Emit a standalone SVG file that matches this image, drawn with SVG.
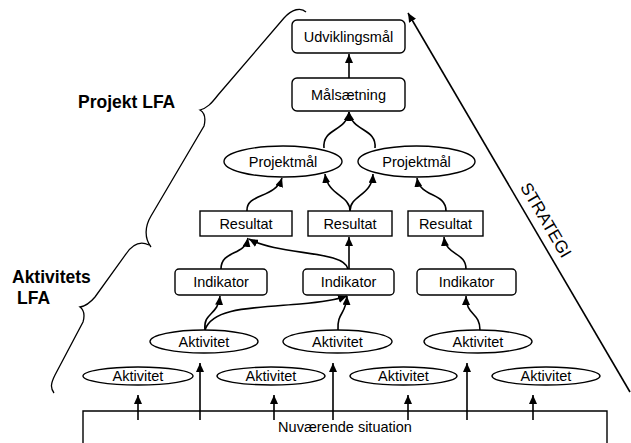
<svg xmlns="http://www.w3.org/2000/svg" width="631" height="443" viewBox="0 0 631 443">
<defs>
<marker id="ah" markerUnits="userSpaceOnUse" markerWidth="10" markerHeight="8" refX="9" refY="4" orient="auto">
<path d="M0,0 L9,4 L0,8 z" fill="#000"/>
</marker>
<style>
.box{fill:#fff;stroke:#000;stroke-width:1.4}
.t{font-family:"Liberation Sans",Arial,sans-serif;font-size:14.5px;fill:#000;text-anchor:middle}
.b{font-family:"Liberation Sans",Arial,sans-serif;font-size:17.5px;font-weight:bold;fill:#000}
.c{fill:none;stroke:#000;stroke-width:1.6}
.br{fill:none;stroke:#000;stroke-width:1.3}
</style>
</defs>
<rect width="631" height="443" fill="#fff"/>

<g id="braces">
<path class="br" d="M306,12 C301,7 292,9 284,18 L218,95 C211,104 207,108 200,110 C205,113 206,118 204,126 L151,216 C145,226 144,238 151,247"/>
<path class="br" d="M149,245 C139,240 132,245 126,254 L95,297 C90,303 86,306 80,307 C84,310 85,315 83,322 L55,375 C51,383 50,388 54,393"/>
</g>

<g id="labels">
<text class="b" x="78" y="108">Projekt LFA</text>
<text class="b" x="12" y="283">Aktivitets</text>
<text class="b" x="17" y="304">LFA</text>
</g>

<g id="connectors">
<path class="c" d="M349,78 L349,54" marker-end="url(#ah)"/>
<path class="c" d="M324,148 C322,128 346,132 349,112" marker-end="url(#ah)"/>
<path class="c" d="M375,148 C377,128 352,132 349,112" marker-end="url(#ah)"/>
<path class="c" d="M247,211 C246,193 275,199 282,178" marker-end="url(#ah)"/>
<path class="c" d="M350,211 C350,195 328,196 325,174" marker-end="url(#ah)"/>
<path class="c" d="M350,211 C350,195 372,196 373,174" marker-end="url(#ah)"/>
<path class="c" d="M446,211 C446,192 420,198 417,178" marker-end="url(#ah)"/>
<path class="c" d="M221,269 C221,250 245,256 248,238" marker-end="url(#ah)"/>
<path class="c" d="M348,269 C344,250 280,256 249,239" marker-end="url(#ah)"/>
<path class="c" d="M349,269 L349,237" marker-end="url(#ah)"/>
<path class="c" d="M466,269 C466,252 446,256 444,237" marker-end="url(#ah)"/>
<path class="c" d="M205,330 C203,312 218,316 220,296" marker-end="url(#ah)"/>
<path class="c" d="M205,330 C212,308 250,308 300,304 C322,302 336,300 347,296" marker-end="url(#ah)"/>
<path class="c" d="M338,330 C337,312 346,315 347,296" marker-end="url(#ah)"/>
<path class="c" d="M480,330 C480,312 466,316 466,296" marker-end="url(#ah)"/>
<path class="c" d="M138,420 L138,395" marker-end="url(#ah)"/>
<path class="c" d="M274,420 L274,395" marker-end="url(#ah)"/>
<path class="c" d="M408,420 L408,395" marker-end="url(#ah)"/>
<path class="c" d="M533,420 L533,395" marker-end="url(#ah)"/>
<path class="c" d="M200,420 L200,363" marker-end="url(#ah)"/>
<path class="c" d="M333,420 L333,363" marker-end="url(#ah)"/>
<path class="c" d="M467,420 L467,363" marker-end="url(#ah)"/>
<path class="c" d="M630,392 L408,13" marker-end="url(#ah)"/>
</g>

<g id="strategi">
<text class="t" style="font-size:17px" transform="translate(541,223) rotate(59.6)">STRATEGI</text>
</g>

<g id="udviklingsmaal">
<rect class="box" x="292" y="20" width="113" height="33" rx="5"/>
<text class="t" x="348.5" y="41.5">Udviklingsmål</text>
</g>
<g id="maalsaetning">
<rect class="box" x="292" y="78" width="113" height="33" rx="5"/>
<text class="t" x="348.5" y="100">Målsætning</text>
</g>

<g id="projektmaal1">
<ellipse class="box" cx="283" cy="161.5" rx="59" ry="15.5"/>
<text class="t" x="283" y="166.5">Projektmål</text>
</g>
<g id="projektmaal2">
<ellipse class="box" cx="416.5" cy="161.5" rx="58.5" ry="15.5"/>
<text class="t" x="416.5" y="166.5">Projektmål</text>
</g>

<g id="resultat1">
<rect class="box" x="200" y="211" width="92" height="25"/>
<text class="t" x="246" y="229">Resultat</text>
</g>
<g id="resultat2">
<rect class="box" x="308" y="211" width="84" height="25"/>
<text class="t" x="350" y="229">Resultat</text>
</g>
<g id="resultat3">
<rect class="box" x="408" y="211" width="75" height="25"/>
<text class="t" x="445.5" y="229">Resultat</text>
</g>

<g id="indikator1">
<rect class="box" x="175" y="269" width="92" height="26" rx="4"/>
<text class="t" x="221" y="287">Indikator</text>
</g>
<g id="indikator2">
<rect class="box" x="303" y="269" width="91" height="26" rx="4"/>
<text class="t" x="348.5" y="287">Indikator</text>
</g>
<g id="indikator3">
<rect class="box" x="417" y="269" width="99" height="26" rx="4"/>
<text class="t" x="466.5" y="287">Indikator</text>
</g>

<g id="aktivitet1">
<ellipse class="box" cx="204" cy="341.5" rx="54" ry="11.5"/>
<text class="t" x="204" y="346.5">Aktivitet</text>
</g>
<g id="aktivitet2">
<ellipse class="box" cx="337.5" cy="341.5" rx="54.5" ry="11.5"/>
<text class="t" x="337.5" y="346.5">Aktivitet</text>
</g>
<g id="aktivitet3">
<ellipse class="box" cx="478" cy="341.5" rx="54" ry="11.5"/>
<text class="t" x="478" y="346.5">Aktivitet</text>
</g>

<g id="aktivitet4">
<ellipse class="box" cx="138" cy="376" rx="55" ry="9"/>
<text class="t" x="138" y="381">Aktivitet</text>
</g>
<g id="aktivitet5">
<ellipse class="box" cx="271" cy="376" rx="54" ry="9"/>
<text class="t" x="271" y="381">Aktivitet</text>
</g>
<g id="aktivitet6">
<ellipse class="box" cx="403.5" cy="376" rx="53.5" ry="9"/>
<text class="t" x="403.5" y="381">Aktivitet</text>
</g>
<g id="aktivitet7">
<ellipse class="box" cx="546" cy="376" rx="54" ry="9"/>
<text class="t" x="546" y="381">Aktivitet</text>
</g>

<g id="nuvaerende">
<path class="box" d="M83,443 L83,411 L607,411 L607,443" style="fill:none"/>
<text class="t" x="345" y="432">Nuværende situation</text>
</g>
</svg>
